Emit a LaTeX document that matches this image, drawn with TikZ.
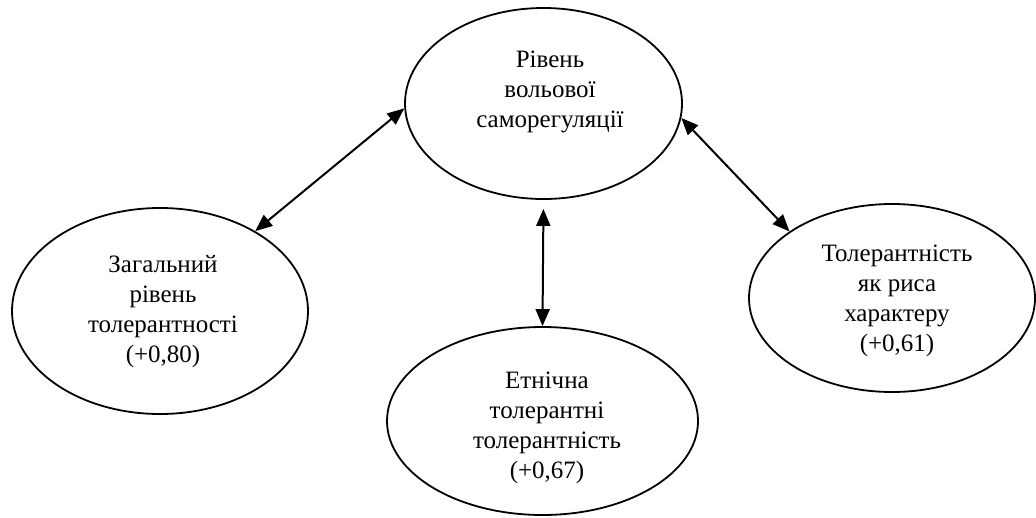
\documentclass[tikz,border=0pt]{standalone}
\usepackage{fontspec}
\setmainfont{Liberation Serif}
\usetikzlibrary{shapes.geometric,arrows.meta}
\begin{document}
\begin{tikzpicture}[x=1pt,y=-1pt,
  oval/.style={draw=black,line width=1.8pt,ellipse,inner sep=0pt},
  lbl/.style={align=center,inner sep=0pt,font=\fontsize{25}{30}\selectfont},
  link/.style={line width=2pt,{Triangle[length=17pt,width=14pt]}-{Triangle[length=17pt,width=14pt]}}]
\useasboundingbox (0,0) rectangle (1036,517);
\node[oval,minimum width=277pt,minimum height=191pt] (top) at (543.5,103.5) {};
\node[oval,minimum width=296pt,minimum height=206pt] (left) at (160,311) {};
\node[oval,minimum width=311pt,minimum height=188pt] (bot) at (542.5,421) {};
\node[oval,minimum width=286pt,minimum height=188pt] (right) at (892,298) {};
\node[lbl] (ttop) at (550,92.2) {Рівень\\вольової\\саморегуляції};
\node[lbl] (tleft) at (163,311.7) {Загальний\\рівень\\толерантності\\(+0,80)};
\node[lbl] (tbot) at (547,427.7) {Етнічна\\толерантні\\толерантність\\(+0,67)};
\node[lbl] (tright) at (897,300.7) {Толерантність\\як риса\\характеру\\(+0,61)};
\draw[link] (left.40) -- (top.182);
\draw[link,shorten <=9pt] (top.south) -- (bot.north);
\draw[link] (top.-6.8) -- (right.147.6);
\end{tikzpicture}
\end{document}
